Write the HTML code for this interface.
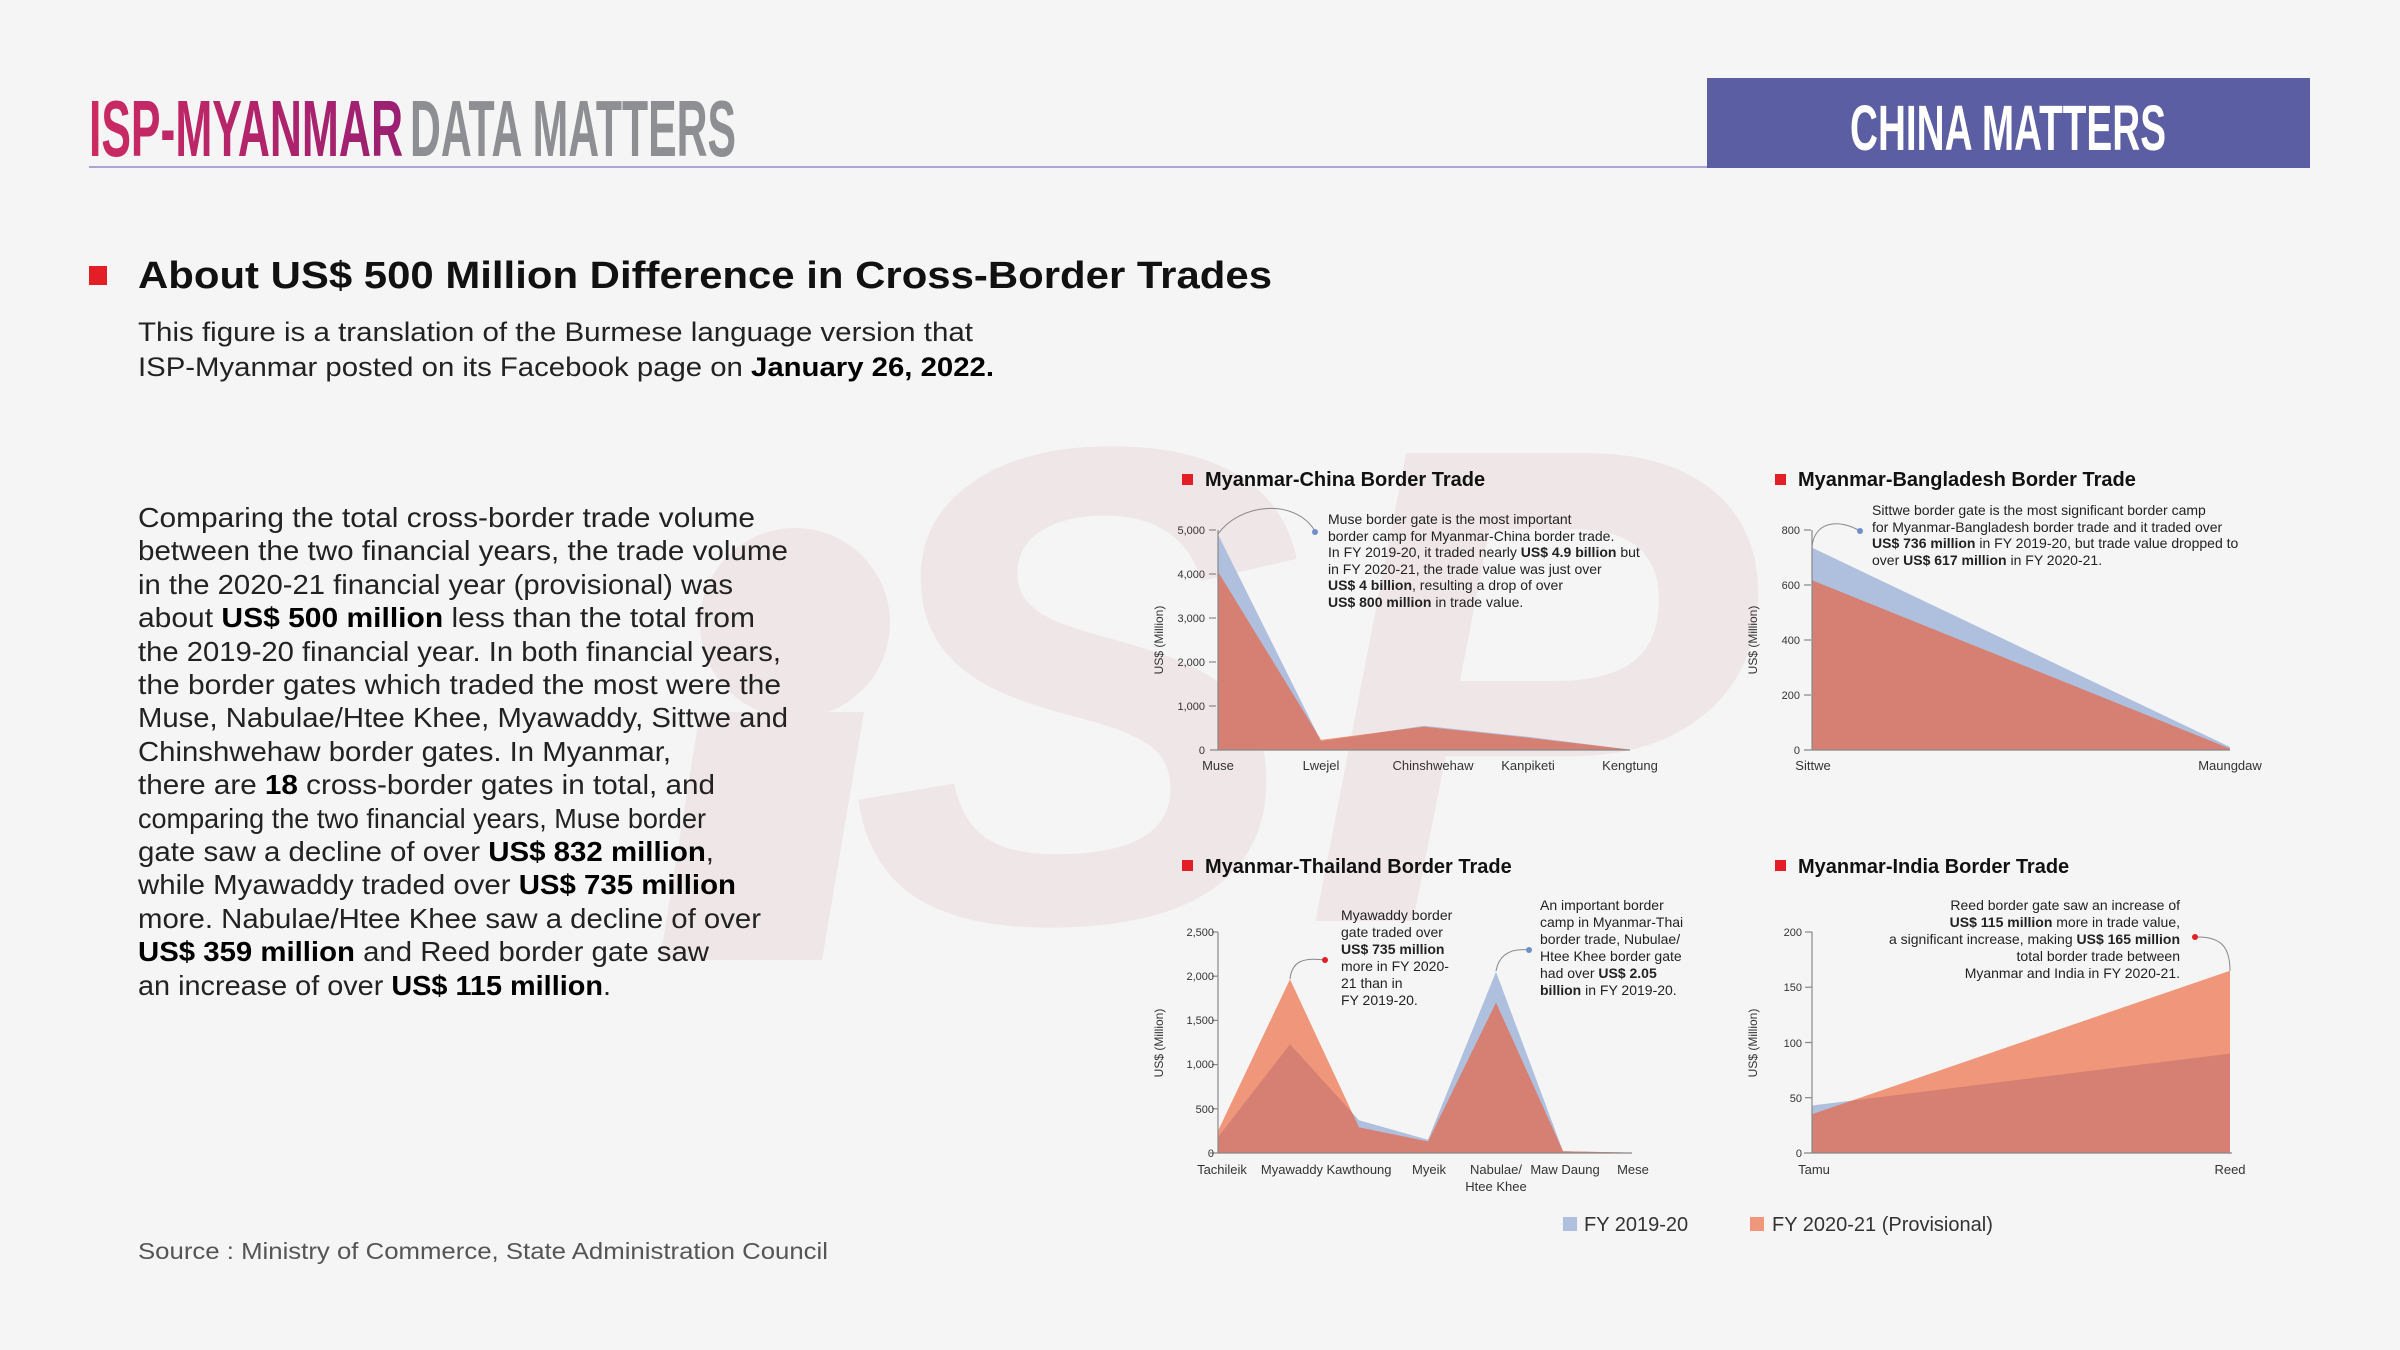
<!DOCTYPE html>
<html><head><meta charset="utf-8"><style>
html,body{margin:0;padding:0;background:#f4f5f4;}
svg{display:block;font-family:"Liberation Sans",sans-serif;}
</style></head><body>
<svg width="2400" height="1350" viewBox="0 0 2400 1350" xmlns="http://www.w3.org/2000/svg">
<defs>
<linearGradient id="ispg" x1="0" x2="1" y1="0" y2="0"><stop offset="0" stop-color="#cc2a62"/><stop offset="1" stop-color="#9a1f72"/></linearGradient>
<clipPath id="cc"><polygon points="1218,750 1218,534.4 1321,741.2 1424,725.8 1528,736.8 1630,749.6 1630,750"/></clipPath>
<clipPath id="ct"><polygon points="1218,1153 1218,1137.1 1290,1044.3 1359,1120.3 1428,1139.7 1496,971.8 1563,1151.2 1632,1152.6 1632,1153"/></clipPath>
<clipPath id="ci"><polygon points="1812,1153 1812,1105.5 2230,1053.6 2230,1153"/></clipPath>
</defs>
<rect width="2400" height="1350" fill="#f4f5f4"/>
<!-- watermark -->
<g fill="#efe6e8">
<ellipse cx="795" cy="623" rx="95" ry="95"/>
<polygon points="700,712 864,712 822,960 660,960"/>
<text x="850" y="921" font-size="680" font-weight="bold" font-style="italic">SP</text>
</g>
<!-- header -->
<text x="89" y="156" font-size="80" font-weight="bold" fill="url(#ispg)" textLength="314" lengthAdjust="spacingAndGlyphs">ISP-MYANMAR</text>
<text x="410" y="156" font-size="80" font-weight="bold" fill="#8e8f93" textLength="326" lengthAdjust="spacingAndGlyphs">DATA MATTERS</text>
<rect x="89" y="166" width="1620" height="2" fill="#aaa5d2"/>
<rect x="1707" y="78" width="603" height="90" fill="#5c5ea3"/>
<text x="2008" y="150" font-size="64" font-weight="bold" fill="#fff" text-anchor="middle" textLength="316" lengthAdjust="spacingAndGlyphs">CHINA MATTERS</text>
<!-- title -->
<rect x="89" y="266" width="18" height="19" fill="#e41e26"/>
<text x="138" y="288" font-size="38" font-weight="bold" fill="#111" textLength="1134" lengthAdjust="spacingAndGlyphs">About US$ 500 Million Difference in Cross-Border Trades</text>
<g font-size="27" fill="#222">
<text x="138" y="341" textLength="835" lengthAdjust="spacingAndGlyphs">This figure is a translation of the Burmese language version that</text>
<text x="138" y="376" textLength="856" lengthAdjust="spacingAndGlyphs">ISP-Myanmar posted on its Facebook page on <tspan font-weight="bold" fill="#000">January 26, 2022.</tspan></text>
</g>
<!-- body -->
<g font-size="28" fill="#222" lengthAdjust="spacingAndGlyphs">
<text x="138" y="527" textLength="617" lengthAdjust="spacingAndGlyphs">Comparing the total cross-border trade volume</text>
<text x="138" y="560" textLength="650" lengthAdjust="spacingAndGlyphs">between the two financial years, the trade volume</text>
<text x="138" y="594" textLength="595" lengthAdjust="spacingAndGlyphs">in the 2020-21 financial year (provisional) was</text>
<text x="138" y="627" textLength="617" lengthAdjust="spacingAndGlyphs">about <tspan font-weight="bold" fill="#000">US$ 500 million</tspan> less than the total from</text>
<text x="138" y="661" textLength="643" lengthAdjust="spacingAndGlyphs">the 2019-20 financial year. In both financial years,</text>
<text x="138" y="694" textLength="643" lengthAdjust="spacingAndGlyphs">the border gates which traded the most were the</text>
<text x="138" y="727" textLength="650" lengthAdjust="spacingAndGlyphs">Muse, Nabulae/Htee Khee, Myawaddy, Sittwe and</text>
<text x="138" y="761" textLength="533" lengthAdjust="spacingAndGlyphs">Chinshwehaw border gates. In Myanmar,</text>
<text x="138" y="794" textLength="577" lengthAdjust="spacingAndGlyphs">there are <tspan font-weight="bold" fill="#000">18</tspan> cross-border gates in total, and</text>
<text x="138" y="828" textLength="568" lengthAdjust="spacingAndGlyphs">comparing the two financial years, Muse border</text>
<text x="138" y="861" textLength="576" lengthAdjust="spacingAndGlyphs">gate saw a decline of over <tspan font-weight="bold" fill="#000">US$ 832 million</tspan>,</text>
<text x="138" y="894" textLength="598" lengthAdjust="spacingAndGlyphs">while Myawaddy traded over <tspan font-weight="bold" fill="#000">US$ 735 million</tspan></text>
<text x="138" y="928" textLength="623" lengthAdjust="spacingAndGlyphs">more. Nabulae/Htee Khee saw a decline of over</text>
<text x="138" y="961" textLength="571" lengthAdjust="spacingAndGlyphs"><tspan font-weight="bold" fill="#000">US$ 359 million</tspan> and Reed border gate saw</text>
<text x="138" y="995" textLength="473" lengthAdjust="spacingAndGlyphs">an increase of over <tspan font-weight="bold" fill="#000">US$ 115 million</tspan>.</text>
</g>
<text x="138" y="1259" font-size="23" fill="#555" textLength="690" lengthAdjust="spacingAndGlyphs">Source  :  Ministry of Commerce, State Administration Council</text>

<!-- ===== China chart ===== -->
<rect x="1182" y="474" width="11" height="11" fill="#e41e26"/>
<text x="1205" y="486" font-size="20" font-weight="bold" fill="#111">Myanmar-China  Border Trade</text>
<polygon points="1218,750 1218,534.4 1321,741.2 1424,725.8 1528,736.8 1630,749.6 1630,750" fill="#afc0de"/>
<polygon points="1218,750 1218,571.8 1321,739.9 1424,726.7 1528,737.7 1630,749.6 1630,750" fill="#f0967a"/>
<polygon points="1218,750 1218,571.8 1321,739.9 1424,726.7 1528,737.7 1630,749.6 1630,750" fill="#d58072" clip-path="url(#cc)"/>
<g stroke="#888" stroke-width="1.2" fill="none">
<line x1="1218" y1="530" x2="1218" y2="750"/><line x1="1210" y1="750" x2="1630" y2="750"/>
<line x1="1209" y1="706" x2="1216" y2="706"/><line x1="1209" y1="662" x2="1216" y2="662"/><line x1="1209" y1="618" x2="1216" y2="618"/><line x1="1209" y1="574" x2="1216" y2="574"/><line x1="1209" y1="530" x2="1216" y2="530"/>
</g>
<g font-size="11" fill="#333" text-anchor="end">
<text x="1205" y="754">0</text><text x="1205" y="710">1,000</text><text x="1205" y="666">2,000</text><text x="1205" y="622">3,000</text><text x="1205" y="578">4,000</text><text x="1205" y="534">5,000</text>
</g>
<text transform="translate(1163,640) rotate(-90)" font-size="12" fill="#333" text-anchor="middle">US$ (Million)</text>
<g font-size="13" fill="#333" text-anchor="middle">
<text x="1218" y="770">Muse</text><text x="1321" y="770">Lwejel</text><text x="1433" y="770">Chinshwehaw</text><text x="1528" y="770">Kanpiketi</text><text x="1630" y="770">Kengtung</text>
</g>
<path d="M1218,534 C1240,503 1295,498 1315,531" stroke="#888" stroke-width="1" fill="none"/>
<circle cx="1315" cy="532" r="3" fill="#6f8fc9"/>
<g font-size="14" fill="#222">
<text x="1328" y="524">Muse border gate is the most important</text>
<text x="1328" y="541">border camp for Myanmar-China border trade.</text>
<text x="1328" y="557">In FY 2019-20, it traded nearly <tspan font-weight="bold">US$ 4.9 billion</tspan> but</text>
<text x="1328" y="574">in FY 2020-21, the trade value was just over</text>
<text x="1328" y="590"><tspan font-weight="bold">US$ 4 billion</tspan>, resulting a drop of over</text>
<text x="1328" y="607"><tspan font-weight="bold">US$ 800 million</tspan> in trade value.</text>
</g>

<!-- ===== Bangladesh chart ===== -->
<rect x="1775" y="474" width="11" height="11" fill="#e41e26"/>
<text x="1798" y="486" font-size="20" font-weight="bold" fill="#111">Myanmar-Bangladesh  Border Trade</text>
<polygon points="1812,750 1812,547.6 2230,747 2230,750" fill="#afc0de"/>
<polygon points="1812,750 1812,580.3 2230,748.6 2230,750" fill="#d58072"/>
<g stroke="#888" stroke-width="1.2" fill="none">
<line x1="1812" y1="530" x2="1812" y2="750"/><line x1="1804" y1="750" x2="2230" y2="750"/>
<line x1="1804" y1="695" x2="1811" y2="695"/><line x1="1804" y1="640" x2="1811" y2="640"/><line x1="1804" y1="585" x2="1811" y2="585"/><line x1="1804" y1="530" x2="1811" y2="530"/>
</g>
<g font-size="11" fill="#333" text-anchor="end">
<text x="1800" y="754">0</text><text x="1800" y="699">200</text><text x="1800" y="644">400</text><text x="1800" y="589">600</text><text x="1800" y="534">800</text>
</g>
<text transform="translate(1757,640) rotate(-90)" font-size="12" fill="#333" text-anchor="middle">US$ (Million)</text>
<g font-size="13" fill="#333" text-anchor="middle">
<text x="1813" y="770">Sittwe</text><text x="2230" y="770">Maungdaw</text>
</g>
<path d="M1812,547 C1814,522 1838,518 1860,531" stroke="#888" stroke-width="1" fill="none"/>
<circle cx="1860" cy="531" r="3" fill="#6f8fc9"/>
<g font-size="14" fill="#222">
<text x="1872" y="515">Sittwe border gate is the most significant border camp</text>
<text x="1872" y="532">for Myanmar-Bangladesh border trade and it traded over</text>
<text x="1872" y="548"><tspan font-weight="bold">US$ 736 million</tspan> in FY 2019-20, but trade value dropped to</text>
<text x="1872" y="565">over <tspan font-weight="bold">US$ 617 million</tspan> in FY 2020-21.</text>
</g>

<!-- ===== Thailand chart ===== -->
<rect x="1182" y="860" width="11" height="11" fill="#e41e26"/>
<text x="1205" y="873" font-size="20" font-weight="bold" fill="#111">Myanmar-Thailand Border Trade</text>
<polygon points="1218,1153 1218,1137.1 1290,1044.3 1359,1120.3 1428,1139.7 1496,971.8 1563,1151.2 1632,1152.6 1632,1153" fill="#afc0de"/>
<polygon points="1218,1153 1218,1130.9 1290,979.3 1359,1127.4 1428,1141.5 1496,1002.7 1563,1151.2 1632,1152.6 1632,1153" fill="#f0967a"/>
<polygon points="1218,1153 1218,1130.9 1290,979.3 1359,1127.4 1428,1141.5 1496,1002.7 1563,1151.2 1632,1152.6 1632,1153" fill="#d58072" clip-path="url(#ct)"/>
<g stroke="#888" stroke-width="1.2" fill="none">
<line x1="1218" y1="932" x2="1218" y2="1153"/><line x1="1210" y1="1153" x2="1632" y2="1153"/>
<line x1="1212" y1="1108.8" x2="1218" y2="1108.8"/><line x1="1212" y1="1064.6" x2="1218" y2="1064.6"/><line x1="1212" y1="1020.4" x2="1218" y2="1020.4"/><line x1="1212" y1="976.2" x2="1218" y2="976.2"/><line x1="1212" y1="932" x2="1218" y2="932"/>
</g>
<g font-size="11" fill="#333" text-anchor="end">
<text x="1214" y="1157">0</text><text x="1214" y="1113">500</text><text x="1214" y="1068">1,000</text><text x="1214" y="1024">1,500</text><text x="1214" y="980">2,000</text><text x="1214" y="936">2,500</text>
</g>
<text transform="translate(1163,1043) rotate(-90)" font-size="12" fill="#333" text-anchor="middle">US$ (Million)</text>
<g font-size="13" fill="#333" text-anchor="middle">
<text x="1222" y="1174">Tachileik</text><text x="1292" y="1174">Myawaddy</text><text x="1359" y="1174">Kawthoung</text><text x="1429" y="1174">Myeik</text><text x="1496" y="1174">Nabulae/</text><text x="1496" y="1191">Htee Khee</text><text x="1565" y="1174">Maw Daung</text><text x="1633" y="1174">Mese</text>
</g>
<path d="M1290,979 C1292,962 1302,957 1325,960" stroke="#888" stroke-width="1" fill="none"/>
<circle cx="1325" cy="960" r="3" fill="#e41e26"/>
<path d="M1496,971 C1499,955 1510,948 1529,950" stroke="#888" stroke-width="1" fill="none"/>
<circle cx="1529" cy="950" r="3" fill="#6f8fc9"/>
<g font-size="14" fill="#222">
<text x="1341" y="920">Myawaddy border</text>
<text x="1341" y="937">gate traded over</text>
<text x="1341" y="954" font-weight="bold">US$ 735 million</text>
<text x="1341" y="971">more in FY 2020-</text>
<text x="1341" y="988">21 than in</text>
<text x="1341" y="1005">FY 2019-20.</text>
<text x="1540" y="910">An important border</text>
<text x="1540" y="927">camp in Myanmar-Thai</text>
<text x="1540" y="944">border trade, Nubulae/</text>
<text x="1540" y="961">Htee Khee border gate</text>
<text x="1540" y="978">had over <tspan font-weight="bold">US$ 2.05</tspan></text>
<text x="1540" y="995"><tspan font-weight="bold">billion</tspan> in FY 2019-20.</text>
</g>

<!-- ===== India chart ===== -->
<rect x="1775" y="860" width="11" height="11" fill="#e41e26"/>
<text x="1798" y="873" font-size="20" font-weight="bold" fill="#111">Myanmar-India Border Trade</text>
<polygon points="1812,1153 1812,1105.5 2230,1053.6 2230,1153" fill="#afc0de"/>
<polygon points="1812,1153 1812,1114.3 2230,970.7 2230,1153" fill="#f0967a"/>
<polygon points="1812,1153 1812,1114.3 2230,970.7 2230,1153" fill="#d58072" clip-path="url(#ci)"/>
<g stroke="#888" stroke-width="1.2" fill="none">
<line x1="1812" y1="932" x2="1812" y2="1153"/><line x1="1804" y1="1153" x2="2232" y2="1153"/>
<line x1="1805" y1="1097.7" x2="1812" y2="1097.7"/><line x1="1805" y1="1042.5" x2="1812" y2="1042.5"/><line x1="1805" y1="987.2" x2="1812" y2="987.2"/><line x1="1805" y1="932" x2="1812" y2="932"/>
</g>
<g font-size="11" fill="#333" text-anchor="end">
<text x="1802" y="1157">0</text><text x="1802" y="1102">50</text><text x="1802" y="1047">100</text><text x="1802" y="991">150</text><text x="1802" y="936">200</text>
</g>
<text transform="translate(1757,1043) rotate(-90)" font-size="12" fill="#333" text-anchor="middle">US$ (Million)</text>
<g font-size="13" fill="#333" text-anchor="middle">
<text x="1814" y="1174">Tamu</text><text x="2230" y="1174">Reed</text>
</g>
<path d="M2195,937 C2222,936 2230,948 2230,971" stroke="#888" stroke-width="1" fill="none"/>
<circle cx="2195" cy="937" r="3" fill="#e41e26"/>
<g font-size="14" fill="#222" text-anchor="end">
<text x="2180" y="910">Reed border gate saw an increase of</text>
<text x="2180" y="927"><tspan font-weight="bold">US$ 115 million</tspan> more in trade value,</text>
<text x="2180" y="944">a significant increase, making <tspan font-weight="bold">US$ 165 million</tspan></text>
<text x="2180" y="961">total border trade between</text>
<text x="2180" y="978">Myanmar and India in FY 2020-21.</text>
</g>

<!-- legend -->
<rect x="1563" y="1217" width="14" height="14" fill="#afc0de"/>
<text x="1584" y="1231" font-size="20" fill="#333">FY 2019-20</text>
<rect x="1750" y="1217" width="14" height="14" fill="#f0967a"/>
<text x="1772" y="1231" font-size="20" fill="#333">FY 2020-21 (Provisional)</text>
</svg>
</body></html>
